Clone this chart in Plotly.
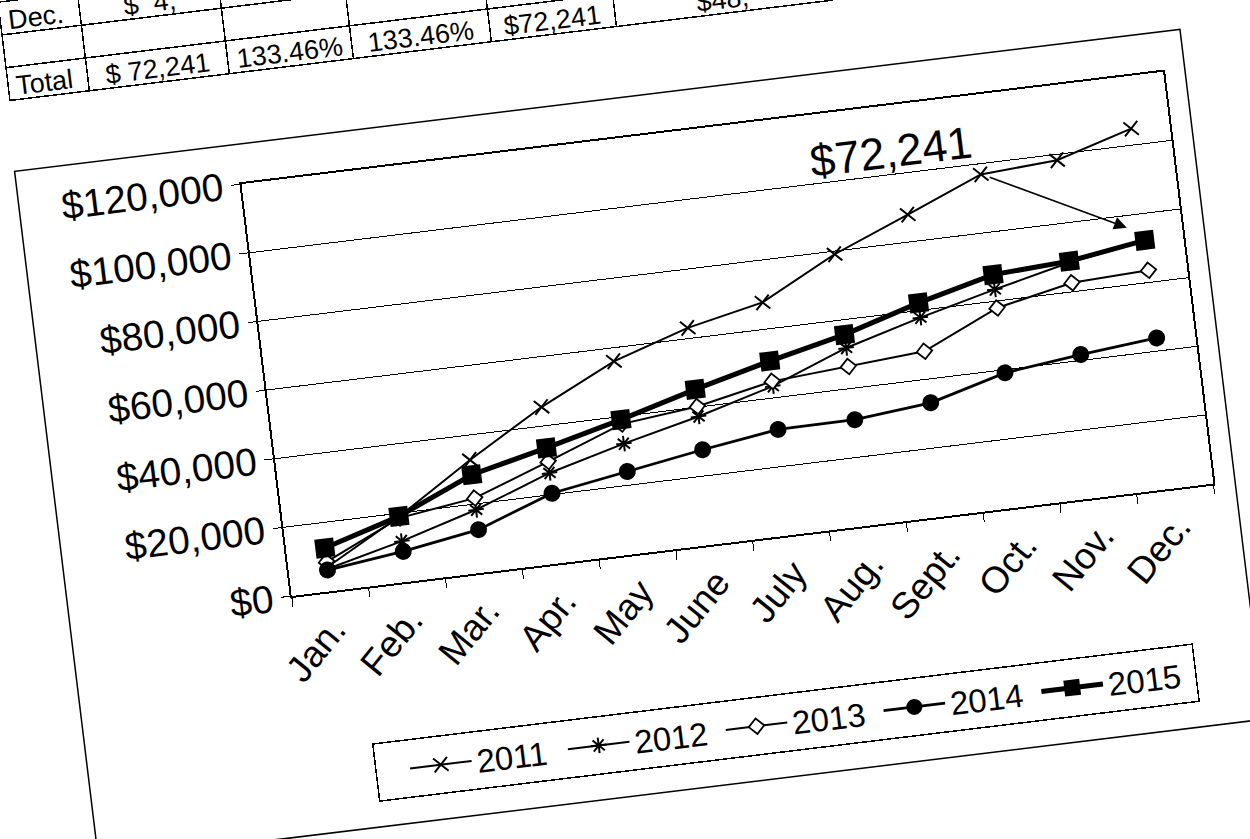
import plotly.graph_objects as go

# ---------------- data ----------------
months = ["Jan.", "Feb.", "Mar.", "Apr.", "May", "June", "July", "Aug.", "Sept.", "Oct.", "Nov.", "Dec."]
s2011 = [7000, 19000, 32800, 45500, 56100, 63100, 67800, 79100, 87900, 96900, 98300, 104800]
s2012 = [6500, 11900, 18300, 26300, 32100, 37300, 43400, 51800, 57900, 63400, 68500, 72000]
s2013 = [8600, 18600, 21700, 29600, 37800, 40200, 44800, 46400, 48100, 58000, 62600, 63500]
s2014 = [6200, 8900, 12500, 20400, 24000, 27600, 30800, 30900, 33100, 39100, 41700, 43800]
s2015 = [12600, 19100, 28500, 33600, 39100, 45200, 50700, 55700, 62200, 67700, 68900, 72241]
y_ticks = [0, 20000, 40000, 60000, 80000, 100000, 120000]
y_tick_labels = ["${:,}".format(v) for v in y_ticks]
callout_text = "$72,241"

# partial table visible at the top of the scan
table_header = ["Dec.", "$  4,", "", "", "", ""]
table_rows = [["", "Total"], ["", "$ 72,241"], ["", "133.46%"], ["", "133.46%"], ["", "$72,241"], ["", "$48,"]]

FONT = "Liberation Sans, Arial, sans-serif"
W, H = 1250, 899

fig = go.Figure()

series = [
    ("2011", s2011, dict(symbol="x-thin-open", size=14, line=dict(width=2, color="black"), color="black"), 2),
    ("2012", s2012, dict(symbol="asterisk-open", size=13, line=dict(width=2, color="black"), color="black"), 2),
    ("2013", s2013, dict(symbol="diamond", size=12, color="white", line=dict(width=1.8, color="black")), 2),
    ("2014", s2014, dict(symbol="circle", size=17, color="black", line=dict(width=0, color="black")), 2.8),
    ("2015", s2015, dict(symbol="square", size=19, color="black", line=dict(width=0, color="black")), 5),
]
for name, vals, mk, lw in series:
    fig.add_trace(go.Scatter(
        x=months, y=vals, name=name, mode="lines+markers",
        line=dict(color="black", width=lw), marker=mk,
        xaxis="x", yaxis="y",
    ))

fig.add_trace(go.Table(
    domain=dict(x=[72 / W, 900 / W], y=[(H - 131) / H, (H - 31) / H]),
    columnwidth=[80, 141, 125, 139, 126, 217],
    header=dict(values=table_header, height=33, align=["left"] + ["center"] * 5,
                fill_color="white", line=dict(color="black", width=1.5),
                font=dict(family=FONT, size=27, color="black")),
    cells=dict(values=table_rows, height=33, align=["left"] + ["center"] * 5,
               fill_color="white", line=dict(color="black", width=1.5),
               font=dict(family=FONT, size=27, color="black")),
))

# callout
fig.add_annotation(x=7.88, y=106580, xref="x", yref="y", text=callout_text, showarrow=False,
                   font=dict(family=FONT, size=45, color="black"))
fig.add_annotation(x=10.79, y=76510, ax=9.09, ay=96030, xref="x", yref="y", axref="x", ayref="y",
                   text="", showarrow=True, arrowhead=2, arrowsize=1.6, arrowwidth=1.6, arrowcolor="black")

# outer chart frame
fig.add_shape(type="rect", xref="paper", yref="paper", x0=68 / W, x1=1242 / W,
              y0=(H - 896) / H, y1=(H - 201) / H, line=dict(color="black", width=1.5), layer="below")

fig.update_layout(
    width=W, height=H,
    margin=dict(l=0, r=0, t=0, b=0),
    paper_bgcolor="white", plot_bgcolor="white",
    font=dict(family=FONT, color="black"),
    hovermode=False,
    showlegend=True,
    legend=dict(orientation="h", x=767 / W, xanchor="center", y=(H - 812) / H, yanchor="top",
                bordercolor="black", borderwidth=1.5, bgcolor="white",
                font=dict(family=FONT, size=33, color="black"), itemwidth=62,
                entrywidth=82, entrywidthmode="pixels",
                title=dict(text="\u00a0\u00a0", side="left", font=dict(family=FONT, size=33))),
    xaxis=dict(domain=[291.7 / W, 1220.2 / W], type="category", showgrid=False,
               showline=True, mirror=True, linecolor="black", linewidth=1.5,
               ticks="outside", tickson="boundaries", ticklen=9, tickcolor="black",
               tickangle=-44, tickfont=dict(family=FONT, size=37, color="black"),
               automargin=False, range=[-0.5, 11.5]),
    yaxis=dict(domain=[(H - 656) / H, (H - 241) / H], range=[0, 120000],
               tickmode="array", tickvals=y_ticks, ticktext=y_tick_labels,
               showgrid=True, gridcolor="black", gridwidth=1,
               showline=True, mirror=True, linecolor="black", linewidth=1.5,
               ticks="outside", ticklen=9, tickcolor="black", zeroline=False,
               tickfont=dict(family=FONT, size=39, color="black"), automargin=False),
)

post = """
var gd = document.getElementById('{plot_id}');
document.documentElement.style.overflow = 'hidden';
document.body.style.margin = '0';
document.body.style.overflow = 'hidden';
gd.style.position = 'absolute';
gd.style.left = '0px';
gd.style.top = '-60px';
gd.style.transformOrigin = '291.7px 656px';
gd.style.transform = 'rotate(-6.95deg)';
"""

fig.write_html("out.html", post_script=post, config={"displayModeBar": False})
